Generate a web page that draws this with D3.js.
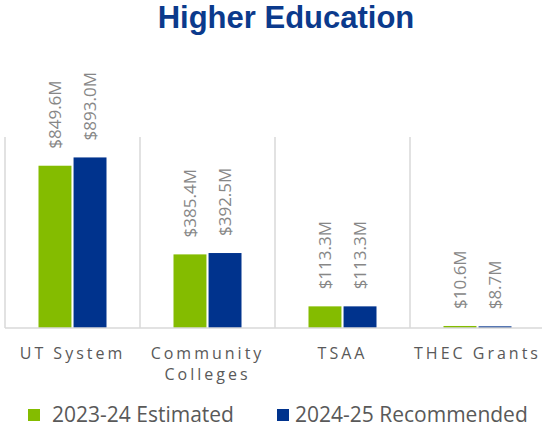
<!DOCTYPE html>
<html>
<head>
<meta charset="utf-8">
<script src="https://cdn.jsdelivr.net/npm/d3@7/dist/d3.min.js"></script>
<style>
  html, body { margin: 0; padding: 0; background: #fff; }
  svg { display: block; }
</style>
</head>
<body>
<svg id="chart" width="542" height="427"></svg>
<script>
const categories = [["UT System"], ["Community", "Colleges"], ["TSAA"], ["THEC Grants"]];
const categoryKeys = ["UT System", "Community Colleges", "TSAA", "THEC Grants"];
const seriesNames = ["2023-24 Estimated", "2024-25 Recommended"];
const estimated2324 = [849.6, 385.4, 113.3, 10.6];
const recommended2425 = [893.0, 392.5, 113.3, 8.7];
const valueLabels2324 = ["$849.6M", "$385.4M", "$113.3M", "$10.6M"];
const valueLabels2425 = ["$893.0M", "$392.5M", "$113.3M", "$8.7M"];
const seriesColors = ["#84BC00", "#00338D"];
const yDomain = [0, 1000];

const svg = d3.select("#chart");
const W = 542, H = 427;
const plot = { left: 5, right: 545, top: 137, bottom: 328 };

// Title
svg.append("text")
  .attr("x", 286).attr("y", 28)
  .attr("text-anchor", "middle")
  .attr("font-family", "Liberation Sans, Arial, sans-serif")
  .attr("font-weight", "bold")
  .attr("font-size", 31)
  .attr("fill", "#0B3A8C")
  .text("Higher Education");

const x = d3.scaleBand().domain(categoryKeys).range([plot.left, plot.right]).padding(0);
const x1 = d3.scaleBand().domain(seriesNames).range([33.5, 101.5]).paddingInner(0.06);
const y = d3.scaleLinear().domain(yDomain).range([plot.bottom, plot.top]);

// Vertical category separators
const sepG = svg.append("g");
categoryKeys.forEach(k => {
  sepG.append("line")
    .attr("x1", x(k)).attr("x2", x(k))
    .attr("y1", plot.top).attr("y2", plot.bottom)
    .attr("stroke", "#D9D9D9").attr("stroke-width", 1.5);
});

const data = categoryKeys.map((k, i) => ({
  key: k,
  values: [
    { s: seriesNames[0], v: estimated2324[i], label: valueLabels2324[i], c: seriesColors[0] },
    { s: seriesNames[1], v: recommended2425[i], label: valueLabels2425[i], c: seriesColors[1] }
  ]
}));

const groups = svg.append("g").selectAll("g").data(data).join("g")
  .attr("transform", d => `translate(${x(d.key)},0)`);

groups.selectAll("rect").data(d => d.values).join("rect")
  .attr("x", d => x1(d.s))
  .attr("width", x1.bandwidth())
  .attr("y", d => y(d.v))
  .attr("height", d => Math.max(1.5, y(0) - y(d.v)))
  .attr("fill", d => d.c);

groups.selectAll("text.val").data(d => d.values).join("text")
  .attr("class", "val")
  .attr("transform", d => `translate(${x1(d.s) + x1.bandwidth() / 2 + 6},${y(d.v) - 17}) rotate(-90)`)
  .attr("text-anchor", "start")
  .attr("font-family", "Open Sans, sans-serif")
  .attr("font-size", 17)
  .attr("fill", "#878787")
  .text(d => d.label);

// Baseline
svg.append("line")
  .attr("x1", plot.left).attr("x2", W)
  .attr("y1", y(0)).attr("y2", y(0))
  .attr("stroke", "#D9D9D9").attr("stroke-width", 1.5);

// Category labels
categoryKeys.forEach((k, i) => {
  const t = svg.append("text")
    .attr("x", x(k) + x.bandwidth() / 2)
    .attr("y", 359)
    .attr("text-anchor", "middle")
    .attr("font-family", "Open Sans, sans-serif")
    .attr("font-size", 16)
    .attr("letter-spacing", 3)
    .attr("fill", "#595959");
  categories[i].forEach((line, j) => {
    t.append("tspan")
      .attr("x", x(k) + x.bandwidth() / 2)
      .attr("dy", j === 0 ? 0 : 21)
      .text(line);
  });
});

// Legend
const legendX = [28, 277];
seriesNames.forEach((s, i) => {
  svg.append("rect")
    .attr("x", legendX[i]).attr("y", 409)
    .attr("width", 12).attr("height", 12)
    .attr("fill", seriesColors[i]);
  svg.append("text")
    .attr("x", legendX[i] + (i === 0 ? 24 : 18)).attr("y", 421.5)
    .attr("font-family", "Open Sans, sans-serif")
    .attr("font-size", 21)
    .attr("fill", "#595959")
    .text(s);
});
</script>
</body>
</html>
